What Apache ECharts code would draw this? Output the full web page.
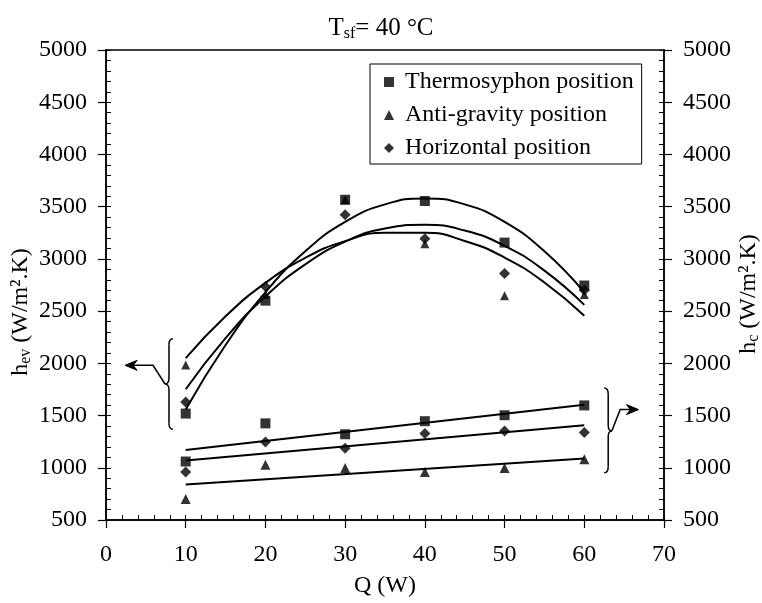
<!DOCTYPE html>
<html>
<head>
<meta charset="utf-8">
<script src="https://cdn.jsdelivr.net/npm/echarts@6/dist/echarts.min.js"></script>
<style>html,body{margin:0;padding:0;background:#fff}#c{width:762px;height:603px}</style>
</head>
<body>
<div id="c"></div>
<script>
// ---- data ----
const xTicks = [0, 10, 20, 30, 40, 50, 60, 70];
const yTicks = [500, 1000, 1500, 2000, 2500, 3000, 3500, 4000, 4500, 5000];
const Q = [10, 20, 30, 40, 50, 60];
// evaporator h_ev (left axis)
const evThermo = [1519, 2600, 3566, 3554, 3156, 2745];
const evAnti   = [1985, 2660, 3566, 3144, 2648, 2658];
const evHoriz  = [1629, 2736, 3422, 3192, 2859, 2700];
// condenser h_c (right axis)
const cdThermo = [1060, 1425, 1321, 1446, 1503, 1597];
const cdAnti   = [701, 1028, 997, 959, 997, 1082];
const cdHoriz  = [959, 1248, 1186, 1327, 1352, 1337];
// trend curves
const fitQ = [10, 15, 20, 25, 30, 35, 40, 45, 50, 55, 60];
const fitEvThermo = [1557, 2175, 2680, 3073, 3354, 3522, 3578, 3522, 3354, 3073, 2680];
const fitEvAnti   = [2050, 2450, 2770, 3010, 3170, 3251, 3251, 3172, 3013, 2774, 2455];
const fitEvHoriz  = [1752, 2241, 2640, 2948, 3165, 3291, 3326, 3271, 3125, 2888, 2560];
const fitLinQ = [10, 60];
const fitCdThermo = [1170, 1604];
const fitCdHoriz  = [1069, 1408];
const fitCdAnti   = [840, 1088];
const names = ['Thermosyphon position', 'Anti-gravity position', 'Horizontal position'];

const FONT = '"Liberation Serif", "Times New Roman", serif';
const FS = 24;
const pair = (xs, ys) => xs.map((x, i) => [x, ys[i]]);

const chart = echarts.init(document.getElementById('c'), null, {renderer: 'canvas'});

function xAx(extra) {
  return Object.assign({
    type: 'value', min: xTicks[0], max: xTicks[xTicks.length - 1], interval: xTicks[1] - xTicks[0], gridIndex: 0,
    splitLine: {show: false},
    axisLine: {show: true, onZero: false, lineStyle: {color: '#000', width: 1.5}}
  }, extra);
}
function yAx(extra) {
  return Object.assign({
    type: 'value', min: yTicks[0], max: yTicks[yTicks.length - 1], interval: yTicks[1] - yTicks[0], gridIndex: 0,
    splitLine: {show: false},
    axisLine: {show: true, onZero: false, lineStyle: {color: '#000', width: 1.5}}
  }, extra);
}
const lblStyle = {color: '#000', fontFamily: FONT, fontSize: FS, fontWeight: 'normal'};
const plain = v => String(v);

const scatterBase = {type: 'scatter', itemStyle: {color: '#000'}, z: 5};
const lineBase = {type: 'line', symbol: 'none', silent: true, lineStyle: {color: '#000', width: 2}, z: 3};

chart.setOption({
  animation: false,
  backgroundColor: '#fff',
  title: {
    text: '{a|T}{b|sf}{a|= 40 °C}',
    left: 'center', top: 10,
    textStyle: {
      fontWeight: 'normal',
      rich: {
        a: {fontFamily: FONT, fontSize: 25, color: '#000', fontWeight: 'normal'},
        b: {fontFamily: FONT, fontSize: 16, color: '#000', fontWeight: 'normal', padding: [11, 0, 0, 0]}
      }
    }
  },
  grid: {left: 106, right: 98, top: 50, bottom: 76},
  legend: {
    orient: 'vertical', left: 370, top: 64,
    data: [
      {name: names[0], icon: 'rect'},
      {name: names[1], icon: 'triangle'},
      {name: names[2], icon: 'diamond'}
    ],
    itemWidth: 10, itemHeight: 10, itemGap: 9,
    padding: [6, 8, 4, 14],
    borderColor: '#000', borderWidth: 1,
    textStyle: {color: '#000', fontFamily: FONT, fontSize: FS, padding: [0, 0, 0, 6]},
    selectedMode: false
  },
  xAxis: [
    xAx({position: 'bottom', name: 'Q (W)', nameLocation: 'middle', nameGap: 54,
      nameTextStyle: lblStyle,
      axisTick: {show: true, inside: false, length: 8, lineStyle: {color: '#000', width: 1.2}},
      axisLabel: Object.assign({margin: 23, formatter: plain}, lblStyle)}),
    xAx({position: 'bottom', axisLabel: {show: false},
      axisTick: {show: true, inside: true, length: 5, lineStyle: {color: '#000', width: 1}},
      minorTick: {show: true, splitNumber: 5, length: 5, lineStyle: {color: '#000', width: 1}}}),
    xAx({position: 'top', axisLabel: {show: false}, axisTick: {show: false}})
  ],
  yAxis: [
    yAx({position: 'left',
      axisTick: {show: true, inside: false, length: 8, lineStyle: {color: '#000', width: 1.2}},
      axisLabel: Object.assign({margin: 19, formatter: plain}, lblStyle)}),
    yAx({position: 'left', axisLabel: {show: false},
      axisTick: {show: true, inside: true, length: 5, lineStyle: {color: '#000', width: 1}},
      minorTick: {show: true, splitNumber: 5, length: 5, lineStyle: {color: '#000', width: 1}}}),
    yAx({position: 'right',
      axisTick: {show: true, inside: false, length: 8, lineStyle: {color: '#000', width: 1.2}},
      axisLabel: Object.assign({margin: 19, formatter: plain}, lblStyle)}),
    yAx({position: 'right', axisLabel: {show: false},
      axisTick: {show: true, inside: true, length: 5, lineStyle: {color: '#000', width: 1}},
      minorTick: {show: true, splitNumber: 5, length: 5, lineStyle: {color: '#000', width: 1}}})
  ],
  series: [
    Object.assign({}, lineBase, {name: 'fit1', smooth: 0.5, xAxisIndex: 0, yAxisIndex: 0, data: pair(fitQ, fitEvThermo)}),
    Object.assign({}, lineBase, {name: 'fit2', smooth: 0.5, xAxisIndex: 0, yAxisIndex: 0, data: pair(fitQ, fitEvAnti)}),
    Object.assign({}, lineBase, {name: 'fit3', smooth: 0.5, xAxisIndex: 0, yAxisIndex: 0, data: pair(fitQ, fitEvHoriz)}),
    Object.assign({}, lineBase, {name: 'fit4', xAxisIndex: 0, yAxisIndex: 2, data: pair(fitLinQ, fitCdThermo)}),
    Object.assign({}, lineBase, {name: 'fit5', xAxisIndex: 0, yAxisIndex: 2, data: pair(fitLinQ, fitCdHoriz)}),
    Object.assign({}, lineBase, {name: 'fit6', xAxisIndex: 0, yAxisIndex: 2, data: pair(fitLinQ, fitCdAnti)}),
    Object.assign({}, scatterBase, {name: names[1], symbol: 'triangle', symbolSize: 9, xAxisIndex: 0, yAxisIndex: 0, data: pair(Q, evAnti)}),
    Object.assign({}, scatterBase, {name: names[2], symbol: 'diamond', symbolSize: 11, xAxisIndex: 0, yAxisIndex: 0, data: pair(Q, evHoriz)}),
    Object.assign({}, scatterBase, {name: names[0], symbol: 'rect', symbolSize: 10, xAxisIndex: 0, yAxisIndex: 0, data: pair(Q, evThermo)}),
    Object.assign({}, scatterBase, {name: names[1], symbol: 'triangle', symbolSize: 10, xAxisIndex: 0, yAxisIndex: 2, data: pair(Q, cdAnti)}),
    Object.assign({}, scatterBase, {name: names[2], symbol: 'diamond', symbolSize: 11, xAxisIndex: 0, yAxisIndex: 2, data: pair(Q, cdHoriz)}),
    Object.assign({}, scatterBase, {name: names[0], symbol: 'rect', symbolSize: 10, xAxisIndex: 0, yAxisIndex: 2, data: pair(Q, cdThermo)})
  ]
});

// ---- annotations: braces + arrows, axis titles ----
const P = (x, v, yi) => chart.convertToPixel({xAxisIndex: 0, yAxisIndex: yi || 0}, [x, v]);
const ST = {stroke: '#000', lineWidth: 1.5, fill: null};
function brace(xv, vTop, vBot, xc, vc, yi, dir) {
  const [bx, t] = P(xv, vTop, yi);
  const [, b] = P(xv, vBot, yi);
  const [cx, cy] = P(xc, vc, yi);
  const h = dir * 4;
  const bz = (x1, y1, cpx, cpy, x2, y2) => ({type: 'bezierCurve', shape: {x1, y1, x2, y2, cpx1: cpx, cpy1: cpy}, style: ST});
  const ln = (x1, y1, x2, y2) => ({type: 'line', shape: {x1, y1, x2, y2}, style: ST});
  return [
    bz(bx + h, t, bx, t, bx, t + 6),
    ln(bx, t + 6, bx, cy - 6),
    bz(bx, cy - 6, bx, cy, cx, cy),
    bz(cx, cy, bx, cy, bx, cy + 6),
    ln(bx, cy + 6, bx, b - 6),
    bz(bx, b - 6, bx, b, bx + h, b)
  ];
}
function arrow(pts, yi, dir) {
  const p = pts.map(q => P(q[0], q[1], yi));
  const tip = p[p.length - 1];
  const L = 12, W = 5, n = 4;
  const shaft = p.slice(0, -1).concat([[tip[0] - dir * n, tip[1]]]);
  return [
    {type: 'polyline', shape: {points: shaft}, style: {stroke: '#000', lineWidth: 1.5, fill: null}},
    {type: 'polygon', shape: {points: [tip, [tip[0] - dir * L, tip[1] - W], [tip[0] - dir * (L - 4), tip[1]], [tip[0] - dir * L, tip[1] + W]]},
      style: {fill: '#000', stroke: '#000', lineWidth: 1}}
  ];
}
const richName = {a: {fontFamily: FONT, fontSize: FS, fill: '#000'}, b: {fontFamily: FONT, fontSize: 16, fill: '#000', padding: [10, 0, 0, 0]}};
chart.setOption({
  graphic: [
    ...brace(7.9, 2236, 1368, 7.4, 1802, 0, 1),
    ...arrow([[7.4, 1802], [5.9, 1981], [2.4, 1981]], 0, -1),
    ...brace(63.0, 1764, 953, 63.45, 1352, 2, -1),
    ...arrow([[63.45, 1352], [64.5, 1557], [66.8, 1557]], 2, 1),
    {type: 'text', x: 21, y: 312, rotation: Math.PI / 2,
      style: {text: '{a|h}{b|ev}{a| (W/m².K)}', align: 'center', verticalAlign: 'middle', rich: richName}},
    {type: 'text', x: 749, y: 294, rotation: Math.PI / 2,
      style: {text: '{a|h}{b|c}{a| (W/m².K)}', align: 'center', verticalAlign: 'middle', rich: richName}}
  ]
});
</script>
</body>
</html>
